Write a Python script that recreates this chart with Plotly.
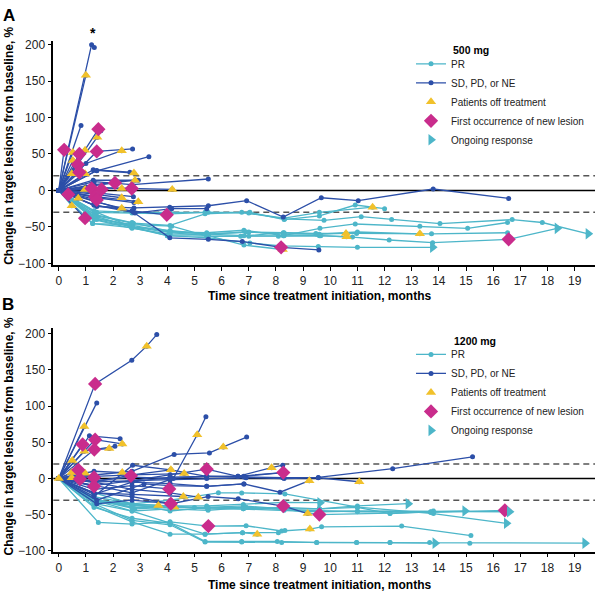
import plotly.graph_objects as go

FONT = "Liberation Sans, Arial, sans-serif"
PR_COLOR = "#4db6c9"
SD_COLOR = "#2c4fa8"
OFF_COLOR = "#f1c12b"
NEW_COLOR = "#c92c8c"

W, H = 600, 601

# ---------------- Panel A: 500 mg ----------------
A_time = [
    [0, 1.21, 1.31],            # 0
    [0, 1.0],                   # 1
    [0, 0.82],                  # 2
    [0, 1.46, 1.55],            # 3
    [0, 1.42],                  # 4
    [0, 1.4, 2.72],             # 5
    [0, 0.97],                  # 6
    [0, 1.0, 2.32],             # 7
    [0, 1.4, 3.32],             # 8
    [0, 0.2],                   # 9
    [0, 0.52],                  # 10
    [0, 0.76],                  # 11
    [0, 0.52],                  # 12
    [0, 0.7],                   # 13
    [0, 0.76],                  # 14
    [0, 0.48],                  # 15
    [0, 0.97],                  # 16
    [0, 1.27, 2.62],            # 17
    [0, 1.4, 2.77],             # 18
    [0, 1.27, 2.93],            # 19
    [0, 1.3, 2.81],             # 20
    [0, 1.0, 2.07],             # 21
    [0, 1.3, 2.32, 2.69],       # 22
    [0, 0.97],                  # 23
    [0, 1.21],                  # 24
    [0, 1.58],                  # 25
    [0, 1.3, 4.18],             # 26
    [0, 1.3, 2.7, 5.51],        # 27
    [0, 0.35],                  # 28
    [0, 0.72],                  # 29
    [0, 1.34],                  # 30
    [0, 1.4],                   # 31
    [0, 1.3, 2.32],             # 32
    [0, 1.3, 2.75],             # 33
    [0, 1.4, 2.77],             # 34
    [0, 1.3, 2.93],             # 35
    [0, 1.4, 2.77, 4.09, 5.51, 6.92, 8.27, 9.67, 11.03, 13.79, 16.57],  # 36
    [0, 1.3, 2.32],             # 37
    [0, 0.97],                  # 38
    [0, 1.4, 2.81, 4.16, 5.45], # 39
    [0, 1.3, 2.75, 4.09, 5.51, 6.76, 8.19, 9.58],  # 40
    [0, 1.3, 2.7, 3.98],        # 41
    [0, 0.48],                  # 42 PR
    [0, 1.4, 2.75, 4.1, 5.39, 6.74, 8.32, 9.77, 11.14, 12.26, 14.04, 16.7, 17.81, 19.5],  # 43
    [0, 1.3, 2.7, 4.1, 5.45, 6.82, 8.27, 9.62, 10.92, 13.3, 15.06, 16.53],  # 44
    [0, 1.25, 2.69, 4.0, 5.45, 6.7, 8.27, 9.47, 10.97, 13.73, 16.53],        # 45
    [0, 1.3, 2.7, 4.1, 5.5, 6.82, 8.09, 9.65, 10.82, 12.17, 13.77, 16.57, 18.36],  # 46
    [0, 1.4, 2.7, 4.0, 5.5, 7.04, 8.2, 9.56, 11.0, 13.77],   # 47
    [0, 1.3, 2.75, 4.1, 5.39, 7.04, 8.3, 9.6, 10.92, 12.0],  # 48
    [0, 1.3, 2.7, 4.1, 5.5, 7.0, 8.3, 9.6, 11.56],           # 49
    [0, 1.3, 2.7, 4.1, 5.5, 6.9, 8.3, 9.5, 10.58],           # 50
    [0, 1.35, 2.7, 4.16, 5.5, 7.0, 8.3, 9.6, 10.6],          # 51
    [0, 1.4, 2.7, 4.1, 5.5, 7.0, 8.3, 9.6, 11.0, 13.3],      # 52
    [0, 1.3, 2.7, 4.1, 5.5, 6.82, 8.25],                     # 53
    [0, 1.25, 2.6],                                          # 54
]
A_change = [
    [0, 200, 196],
    [0, 158],
    [0, 89],
    [0, 84, 82],
    [0, 73],
    [0, 53.5, 57],
    [0, 55],
    [0, 37, 54.5],
    [0, 27, 46.3],
    [0, 55.8],
    [0, 52],
    [0, 50],
    [0, 41],
    [0, 35.5],
    [0, 25],
    [0, 23],
    [0, 23],
    [0, 28.4, 25],
    [0, 27.4, 23.8],
    [0, 14, 14],
    [0, 8, 14],
    [0, 5, 10.3],
    [0, 4, 2.7, 2.7],
    [0, 1.4],
    [0, 2.7],
    [0, 1.4],
    [0, 4, 1.4],
    [0, 12, 8, 15.7],
    [0, -5.4],
    [0, -10.8],
    [0, -8.6],
    [0, -13],
    [0, -5, -10],
    [0, -3, -8.6],
    [0, -10, -16.7],
    [0, -8, -15.4],
    [0, -22, -24, -23, -21, -14, -36.5, -10, -14, 2, -11],
    [0, -15, -24.3],
    [0, -38],
    [0, -15, -31, -25, -25],
    [0, -20, -30, -65, -67, -70, -78, -81.6],
    [0, -20, -28, -33.4],
    [0, -21],
    [0, -35, -45, -48, -32, -30, -39, -41, -36, -40, -45.5, -40, -44, -59.5],
    [0, -38, -48, -57, -58, -54.6, -62, -52, -46, -49, -52, -44],
    [0, -45.5, -51, -62, -62.7, -62.7, -58, -59, -59, -59.5, -58],
    [0, -33, -44, -56, -60, -62, -62.7, -62, -64, -68, -71.6, -67, -52],
    [0, -30, -50, -62, -65, -72, -76, -77, -78, -78],
    [0, -28, -30, -30, -30, -30, -40, -35, -20, -25],
    [0, -30, -31, -32, -30, -31, -38, -30, -23],
    [0, -40, -52, -60, -60, -57, -58, -60, -59],
    [0, -38, -47, -49, -63, -63, -62, -62, -63.5],
    [0, -40, -50, -55, -60, -57, -60, -60, -57, -59.5],
    [0, -35, -50, -58, -62, -75, -81],
    [0, -45.5, -47],
]
A_response = ["SD"] * 42 + ["PR"] * 13
# patient index -> point index
A_off = {1: 1, 4: 1, 6: 1, 7: 2, 10: 1, 12: 1, 15: 1, 16: 1, 18: 2, 20: 2, 22: 2,
         23: 1, 26: 2, 29: 1, 32: 2, 35: 2, 37: 2, 42: 1, 49: 8, 50: 8, 51: 8,
         52: 9, 53: 6}
A_new = {3: 1, 5: 1, 9: 1, 11: 1, 13: 1, 14: 1, 21: 2, 22: 3, 24: 1, 25: 1, 28: 1,
         30: 1, 31: 1, 38: 1, 40: 6, 41: 3, 46: 11}
A_ongoing = [43, 46, 47]

# ---------------- Panel B: 1200 mg ----------------
B_time = [
    [0, 1.34, 2.69, 3.24, 3.61],     # 0
    [0, 1.4],                        # 1
    [0, 0.94],                       # 2
    [0, 1.13, 2.26],                 # 3
    [0, 0.88],                       # 4
    [0, 1.34, 2.34],                 # 5
    [0, 1.31, 1.86],                 # 6
    [0, 0.94, 2.07],                 # 7
    [0, 0.5],                        # 8
    [0, 0.72],                       # 9
    [0, 0.48],                       # 10
    [0, 0.48],                       # 11
    [0],                             # 12
    [0, 0.78],                       # 13
    [0, 0.97],                       # 14
    [0, 1.3],                        # 15
    [0, 1.3, 2.34, 2.66],            # 16
    [0, 1.3],                        # 17
    [0, 1.3, 2.7, 4.22, 5.1, 5.42],  # 18
    [0, 1.3, 2.7, 4.25, 5.55, 6.06, 6.92],  # 19
    [0, 1.3, 2.72, 4.13, 5.45, 6.6, 7.84, 8.25],  # 20
    [0, 1.3, 2.7, 4.13],             # 21
    [0, 1.3, 2.7, 4.1, 5.45, 6.82, 8.25, 9.56, 12.3, 15.24],  # 22
    [0, 1.4, 3.14, 4.1, 5.45, 6.82, 8.15, 9.23],  # 23
    [0, 1.3, 2.7, 4.1, 5.45, 6.9, 8.3, 9.56, 11.07],  # 24
    [0, 1.3, 2.7, 4.13, 5.5, 6.61, 8.27, 9.17],  # 25
    [0, 1.3, 2.7, 4.07],             # 26
    [0, 1.4, 2.7, 4.13],             # 27
    [0, 1.3, 2.7, 4.59],             # 28
    [0, 1.3, 2.7, 4.1, 5.14],        # 29
    [0, 1.3, 2.7, 4.62],             # 30
    [0, 1.3, 2.7, 4.1, 5.45, 6.6, 8.25],   # 31
    [0, 1.3, 2.7, 4.1, 5.45, 6.82, 8.27],  # 32
    [0, 1.3, 2.7, 4.1, 5.45, 6.82],        # 33
    [0, 1.35, 2.7, 3.67],            # 34 PR
    [0, 1.4, 2.7, 4.25],             # 35 PR
    [0, 1.46, 2.7, 4.1, 5.51, 6.9, 8.21, 9.25, 9.68, 12.63, 15.18],  # 36
    [0, 1.3, 2.7, 4.1, 5.39, 6.74, 8.05, 9.5, 10.97, 12.2, 13.66, 15.14, 19.38],  # 37
    [0, 1.3, 2.7, 4.1, 5.39, 6.74, 8.21, 9.5, 10.97, 12.2, 13.86],  # 38
    [0, 1.3, 2.7, 4.1, 5.39, 6.77, 7.31],        # 39
    [0, 1.3, 2.7, 4.1, 5.39, 6.77, 8.09, 8.33],  # 40
    [0, 1.3, 2.7, 4.1, 5.88, 6.74, 8.33, 11.0, 13.8, 16.49],  # 41
    [0, 1.3, 2.7, 4.1, 5.45, 6.8, 8.3, 9.62],    # 42
    [0, 1.3, 2.7, 4.1, 5.45, 6.8, 8.3, 9.6, 11.0, 12.87],  # 43
    [0, 1.4, 2.8, 4.25, 5.5, 6.8, 8.3, 9.6, 11.0, 12.2, 13.7, 14.96],  # 44
    [0, 1.3, 2.7, 4.1, 5.0, 6.8, 8.3, 9.6, 11.0, 13.8, 16.6],  # 45
    [0, 1.3, 2.7, 4.1, 5.5, 6.9, 8.27, 9.6, 12.2, 13.7],  # 46
    [0, 1.4, 2.7, 4.1, 5.5, 6.9, 8.3, 9.6, 11.0, 13.7, 16.43],  # 47
]
B_change = [
    [0, 130.8, 163.5, 183, 199],
    [0, 104.5],
    [0, 71.8],
    [0, 59, 55],
    [0, 47],
    [0, 53.7, 47.7],
    [0, 40, 41.4],
    [0, 37.7, 44.5],
    [0, 25],
    [0, 11.9],
    [0, 8.2],
    [0, 1],
    [0],
    [0, -0.8],
    [0, 7.4],
    [0, 1.4],
    [0, 10, 8.2, 3.7],
    [0, -10.9],
    [0, -10, -20, 0, 60.5, 85.4],
    [0, 5, 10, 33.2, 35.4, 43.6, 57.2],
    [0, -25, 18.3, 11.9, 3, 3, 15, 18.3],
    [0, -5, 5, 11.9],
    [0, -3, -5, 2, 3, 2, 1, 1.4, 13.6, 30],
    [0, -30, -7.6, -10, -10.9, -7.6, -19, -3.1],
    [0, -5, -3, -2, 0, 1, 0, 1, -4.5],
    [0, -20, -25, -34.9, -25, -28, -38.1, -48.5],
    [0, -15, -10, -14.5],
    [0, -35, -30, -34.9],
    [0, -20, -22, -24.9],
    [0, -5, -15, -20, -25.9],
    [0, 3, 5, 6.8],
    [0, -10, -3, 5, 12.8, 3, 8.2],
    [0, -3, 2, 0, 3, 3, 8.2],
    [0, -22, -5, -7, -10.9, -7.6],
    [0, -32, -36, -37.2],
    [0, -30, -40, -39.5],
    [0, -60.8, -63, -60, -65.8, -65.4, -72.6, -70, -66.8, -65.8, -79],
    [0, -40, -55, -62, -87, -87, -87, -88.6, -88.6, -88.6, -88.6, -89.4, -89.4],
    [0, -35, -58, -64, -88, -88, -88.6, -88.6, -88.6, -88.6, -89.4],
    [0, -38, -60, -77, -77, -75, -77],
    [0, -30, -45, -62, -77, -75, -75, -72],
    [0, -20, -35, -30, -19.9, -20, -21.3, -39.5, -48.5, -62],
    [0, -30, -35, -38, -38, -36, -33, -33.5],
    [0, -32, -37, -40, -40, -38, -42, -42, -38, -34.9],
    [0, -30, -42, -39.5, -42, -42, -40, -42, -40, -48.5, -46.3, -45],
    [0, -28, -40, -38, -40, -42, -44, -46, -45, -45, -46],
    [0, -25, -35, -45, -40, -40, -42, -49.9, -48, -46],
    [0, -35, -45, -42, -44, -40, -43, -44, -46, -47, -44],
]
B_response = ["SD"] * 34 + ["PR"] * 14
B_off = {0: 3, 2: 1, 5: 2, 6: 2, 7: 1, 8: 1, 10: 1, 11: 1, 12: 0, 14: 1, 16: 2,
         18: 4, 19: 5, 20: 6, 21: 3, 23: 7, 24: 8, 25: 7, 28: 3, 29: 4, 30: 3,
         34: 3, 35: 3, 36: 7, 39: 6, 44: 3}
B_new = {0: 1, 4: 1, 5: 1, 6: 1, 9: 1, 13: 1, 15: 1, 16: 3, 17: 1, 25: 6, 26: 3,
         27: 3, 31: 4, 32: 6, 36: 4, 46: 7, 47: 10}
B_ongoing = [37, 38, 41, 42, 43, 44, 45]

Y_TICKS = [-100, -50, 0, 50, 100, 150, 200]
X_TICKS = list(range(0, 20))

fig = go.Figure()


def add_panel(times, changes, resp, off, new, ongoing, xa, ya):
    for r, color in (("PR", PR_COLOR), ("SD", SD_COLOR)):
        xs, ys = [], []
        for t, c, rr in zip(times, changes, resp):
            if rr == r:
                xs += list(t) + [None]
                ys += list(c) + [None]
        fig.add_trace(go.Scatter(
            x=xs, y=ys, mode="lines+markers", xaxis=xa, yaxis=ya,
            line=dict(color=color, width=1.3),
            marker=dict(size=5, color=color),
            showlegend=False, hoverinfo="skip"))
    fig.add_trace(go.Scatter(
        x=[times[i][j] for i, j in off.items()],
        y=[changes[i][j] for i, j in off.items()],
        mode="markers", xaxis=xa, yaxis=ya,
        marker=dict(symbol="triangle-up", size=9, color=OFF_COLOR),
        showlegend=False, hoverinfo="skip"))
    fig.add_trace(go.Scatter(
        x=[times[i][j] for i, j in new.items()],
        y=[changes[i][j] for i, j in new.items()],
        mode="markers", xaxis=xa, yaxis=ya,
        marker=dict(symbol="diamond", size=11, color=NEW_COLOR),
        showlegend=False, hoverinfo="skip"))
    fig.add_trace(go.Scatter(
        x=[times[i][-1] for i in ongoing],
        y=[changes[i][-1] for i in ongoing],
        mode="markers", xaxis=xa, yaxis=ya,
        marker=dict(symbol="triangle-right", size=10, color=PR_COLOR),
        showlegend=False, hoverinfo="skip"))


def add_legend(xa, ya, leg):
    fig.add_trace(go.Scatter(x=[None], y=[None], mode="lines+markers", name="PR",
                             line=dict(color=PR_COLOR, width=1.3), marker=dict(size=5, color=PR_COLOR),
                             xaxis=xa, yaxis=ya, legend=leg))
    fig.add_trace(go.Scatter(x=[None], y=[None], mode="lines+markers", name="SD, PD, or NE",
                             line=dict(color=SD_COLOR, width=1.3), marker=dict(size=5, color=SD_COLOR),
                             xaxis=xa, yaxis=ya, legend=leg))
    fig.add_trace(go.Scatter(x=[None], y=[None], mode="markers", name="Patients off treatment",
                             marker=dict(symbol="triangle-up", size=9, color=OFF_COLOR),
                             xaxis=xa, yaxis=ya, legend=leg))
    fig.add_trace(go.Scatter(x=[None], y=[None], mode="markers", name="First occurrence of new lesion",
                             marker=dict(symbol="diamond", size=11, color=NEW_COLOR),
                             xaxis=xa, yaxis=ya, legend=leg))
    fig.add_trace(go.Scatter(x=[None], y=[None], mode="markers", name="Ongoing response",
                             marker=dict(symbol="triangle-right", size=10, color=PR_COLOR),
                             xaxis=xa, yaxis=ya, legend=leg))


add_panel(A_time, A_change, A_response, A_off, A_new, A_ongoing, "x", "y")
add_panel(B_time, B_change, B_response, B_off, B_new, B_ongoing, "x2", "y2")
add_legend("x", "y", "legend")
add_legend("x2", "y2", "legend2")


def px_x(v):
    return v / W


def px_y(v):
    return 1 - v / H


tickfont = dict(family=FONT, size=12, color="#222")
xcommon = dict(range=[-0.2, 19.75], tickmode="array", tickvals=X_TICKS, ticks="outside",
               ticklen=4, tickwidth=1, tickcolor="black", showline=True, linecolor="black",
               linewidth=1.5, showgrid=False, zeroline=False, tickfont=tickfont,
               domain=[px_x(53.3), px_x(595)])
ycommon = dict(tickmode="array", tickvals=Y_TICKS, ticks="outside", ticklen=4, tickwidth=1,
               tickcolor="black", showline=True, linecolor="black", linewidth=1.5,
               showgrid=False, zeroline=False, tickfont=tickfont)

legfont = dict(family=FONT, size=10, color="#222")
fig.update_layout(
    width=W, height=H, margin=dict(l=0, r=0, t=0, b=0),
    paper_bgcolor="white", plot_bgcolor="white",
    xaxis=dict(anchor="y", **xcommon),
    yaxis=dict(anchor="x", range=[-102.3, 205.4], domain=[px_y(266), px_y(38.3)], **ycommon),
    xaxis2=dict(anchor="y2", **xcommon),
    yaxis2=dict(anchor="x2", range=[-101.2, 208], domain=[px_y(557), px_y(330)], **ycommon),
    legend=dict(x=px_x(411), y=px_y(47), xanchor="left", yanchor="top", font=legfont,
                bgcolor="rgba(0,0,0,0)", itemwidth=30, tracegroupgap=0),
    legend2=dict(x=px_x(411), y=px_y(342), xanchor="left", yanchor="top", font=legfont,
                 bgcolor="rgba(0,0,0,0)", itemwidth=30, tracegroupgap=0),
)

shapes = []
for xr, yr in (("x", "y"), ("x2", "y2")):
    shapes.append(dict(type="line", xref=xr + " domain", yref=yr, x0=0, x1=1, y0=0, y1=0,
                       line=dict(color="black", width=1.5), layer="below"))
    for yv in (20, -30):
        shapes.append(dict(type="line", xref=xr + " domain", yref=yr, x0=0, x1=1, y0=yv, y1=yv,
                           line=dict(color="#555", width=1.5, dash="6px,4px"), layer="below"))
fig.update_layout(shapes=shapes)

ann = []


def label(text, x, y, size, xanchor="center", angle=0):
    ann.append(dict(text=text, x=px_x(x), y=px_y(y), xref="paper", yref="paper",
                    xanchor=xanchor, yanchor="middle", showarrow=False, textangle=angle,
                    font=dict(family=FONT, size=size, color="black")))


label("<b>A</b>", 9, 13, 17)
label("<b>B</b>", 8, 306, 17)
for yc in (145, 440):
    label("<b>Change in target lesions from baseline, %</b>", 9, yc, 12, angle=-90)
for yc in (297, 591):
    label("<b>Time since treatment initiation, months</b>", 319.5, yc, 12)
label("<b>500 mg</b>", 451, 48, 10.5, xanchor="left")
label("<b>1200 mg</b>", 452, 343, 10.5, xanchor="left")
ann.append(dict(text="<b>*</b>", x=A_time[0][1] + 0.04, y=A_change[0][1], xref="x", yref="y",
                yshift=12, xanchor="center", yanchor="middle", showarrow=False,
                font=dict(family=FONT, size=14, color="black")))
fig.update_layout(annotations=ann)

fig.write_html("out.html", config={"displayModeBar": False},
               post_script="document.body.style.margin='0';")
